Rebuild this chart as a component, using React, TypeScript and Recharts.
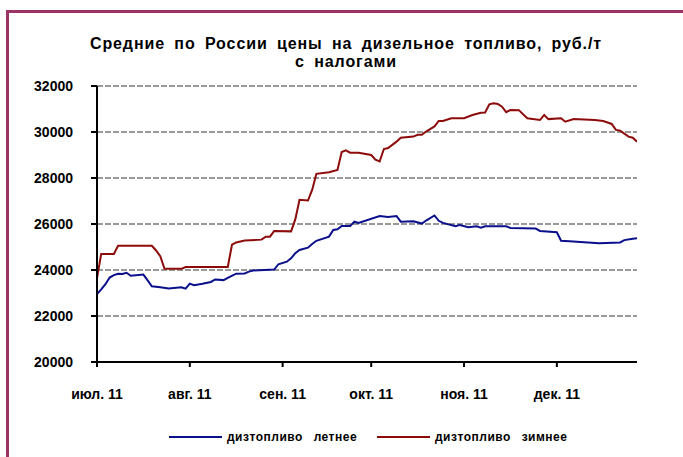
import { LineChart, Line, XAxis, YAxis, CartesianGrid } from 'recharts';

const FONT = '"Liberation Sans", Arial, sans-serif';
const SUMMER_COLOR = '#0a0f8c';
const WINTER_COLOR = '#8e0b0b';

// trading-day index of the first day of each month
const monthTicks = [0, 22, 44, 65, 87, 109];
const monthLabels = ['июл. 11', 'авг. 11', 'сен. 11', 'окт. 11', 'ноя. 11', 'дек. 11'];
const priceTicks = [20000, 22000, 24000, 26000, 28000, 30000, 32000];

const summerDays = [
  0, 1, 2, 3, 4, 5, 6, 7, 8, 11, 12, 13, 15, 17, 20, 21, 22, 23, 25, 27, 28, 30, 31, 33,
  35, 36, 37, 42, 43, 45, 46, 47, 48, 50, 51, 52, 55, 56, 57, 58, 60, 61, 62, 67, 69, 71,
  72, 75, 77, 78, 80, 81, 82, 85, 86, 88, 90, 91, 92, 97, 98, 104, 105, 109, 110, 112, 119,
  124, 125, 127, 128,
];
const summerPrices = [
  22950, 23160, 23380, 23670, 23780, 23840, 23830, 23880, 23750, 23800, 23550, 23290, 23250,
  23200, 23250, 23190, 23410, 23340, 23400, 23480, 23590, 23560, 23660, 23840, 23850, 23930,
  23980, 24020, 24250, 24360, 24510, 24730, 24870, 24970, 25130, 25270, 25450, 25740, 25770,
  25910, 25910, 26100, 26050, 26350, 26300, 26350, 26100, 26120, 26020, 26150, 26370, 26140,
  26050, 25900, 25960, 25860, 25900, 25840, 25900, 25900, 25830, 25800, 25700, 25640, 25270,
  25250, 25160, 25200, 25300, 25360, 25380,
];

const winterDays = [
  0, 1, 4, 5, 13, 14, 15, 16, 20, 21, 31, 32, 33, 35, 39, 40, 41, 42, 46, 47, 48, 50, 51,
  52, 55, 57, 58, 59, 60, 62, 65, 66, 67, 68, 69, 71, 72, 75, 76, 77, 78, 80, 81, 82, 84,
  87, 89, 91, 92, 93, 94, 95, 96, 97, 98, 100, 101, 102, 105, 106, 107, 110, 111, 113, 118,
  120, 122, 123, 124, 126, 127, 128,
];
const winterPrices = [
  23650, 24700, 24700, 25050, 25050, 24850, 24600, 24050, 24050, 24130, 24130, 25100, 25200,
  25280, 25320, 25450, 25450, 25700, 25680, 26200, 27050, 27020, 27480, 28180, 28250, 28350,
  29130, 29200, 29100, 29100, 29000, 28800, 28720, 29260, 29300, 29580, 29750, 29800, 29880,
  29880, 30020, 30240, 30480, 30480, 30600, 30600, 30740, 30840, 30850, 31200, 31250, 31220,
  31100, 30860, 30960, 30950, 30770, 30600, 30520, 30740, 30560, 30600, 30450, 30560, 30520,
  30480, 30350, 30090, 30060, 29800, 29750, 29580,
];

const summerData = summerDays.map((day, i) => ({ day, price: summerPrices[i] }));
const winterData = winterDays.map((day, i) => ({ day, price: winterPrices[i] }));

const axisTick = { fill: '#000', fontSize: 14, fontWeight: 700, fontFamily: FONT };

function LegendItem({ color, label, left }: { color: string; label: string; left: number }) {
  return (
    <div style={{ position: 'absolute', left, top: 428, height: 18, display: 'flex', alignItems: 'center' }}>
      <div style={{ width: 53, height: 2, background: color, marginRight: 5 }} />
      <span
        style={{
          fontSize: 12,
          fontWeight: 700,
          fontFamily: FONT,
          letterSpacing: 0.5,
          wordSpacing: 7,
          whiteSpace: 'pre',
        }}
      >
        {label}
      </span>
    </div>
  );
}

export default function App() {
  return (
    <div
      style={{
        position: 'absolute',
        left: 0,
        top: 0,
        width: 683,
        height: 457,
        background: '#fff',
        overflow: 'hidden',
        fontFamily: FONT,
      }}
    >
      <div
        style={{
          position: 'absolute',
          left: 6,
          top: 10,
          width: 700,
          height: 470,
          borderLeft: '3px solid #9c3366',
          borderTop: '3px solid #9c3366',
        }}
      />
      <div
        style={{
          position: 'absolute',
          left: 0,
          top: 35,
          width: 692,
          textAlign: 'center',
          fontSize: 16,
          lineHeight: '18px',
          fontWeight: 700,
          letterSpacing: 0.9,
          wordSpacing: 4,
        }}
      >
        Средние по России цены на дизельное топливо, руб./т
        <br />с налогами
      </div>
      <div style={{ position: 'absolute', left: 0, top: 0 }}>
        <LineChart width={683} height={457} margin={{ top: 86, right: 46, bottom: 0, left: 0 }}>
          <CartesianGrid vertical={false} stroke="#9a9a9a" strokeWidth={2} strokeDasharray="6 2" />
          <XAxis
            dataKey="day"
            type="number"
            domain={[0, 128]}
            ticks={monthTicks}
            tickFormatter={(v: number) => monthLabels[monthTicks.indexOf(v)] ?? ''}
            height={95}
            axisLine={{ stroke: '#000', strokeWidth: 2 }}
            tickLine={{ stroke: '#000', strokeWidth: 2 }}
            tickSize={5}
            tickMargin={22}
            tick={axisTick}
            allowDataOverflow
          />
          <YAxis
            type="number"
            domain={[20000, 32000]}
            ticks={priceTicks}
            width={97}
            axisLine={{ stroke: '#000', strokeWidth: 2 }}
            tickLine={{ stroke: '#000', strokeWidth: 2 }}
            tickSize={6}
            tickMargin={18}
            tick={axisTick}
          />
          <Line
            data={winterData}
            dataKey="price"
            name="дизтопливо зимнее"
            type="linear"
            stroke={WINTER_COLOR}
            strokeWidth={2}
            dot={false}
            isAnimationActive={false}
          />
          <Line
            data={summerData}
            dataKey="price"
            name="дизтопливо летнее"
            type="linear"
            stroke={SUMMER_COLOR}
            strokeWidth={2}
            dot={false}
            isAnimationActive={false}
          />
        </LineChart>
      </div>
      <LegendItem color={SUMMER_COLOR} label="дизтопливо летнее" left={169} />
      <LegendItem color={WINTER_COLOR} label="дизтопливо зимнее" left={377} />
    </div>
  );
}
